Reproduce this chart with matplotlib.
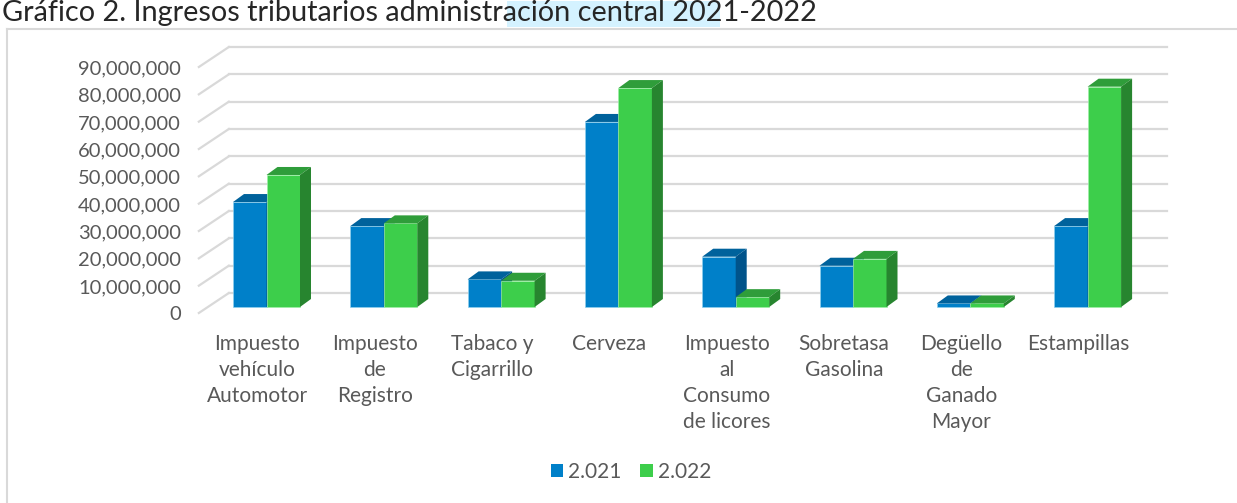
import matplotlib
matplotlib.use("Agg")
import matplotlib.pyplot as plt
import matplotlib.transforms as mtransforms
from matplotlib.patches import Polygon, Patch, Rectangle
import numpy as np

plt.rcParams['font.family'] = ['Lato', 'DejaVu Sans']

categories = ["Impuesto\nvehículo\nAutomotor", "Impuesto\nde\nRegistro", "Tabaco y\nCigarrillo",
              "Cerveza", "Impuesto\nal\nConsumo\nde licores", "Sobretasa\nGasolina",
              "Degüello\nde\nGanado\nMayor", "Estampillas"]
series_names = ["2.021", "2.022"]
values_2021 = [38.4e6, 29.6e6, 10.1e6, 67.7e6, 18.4e6, 15.1e6, 1.3e6, 29.6e6]
values_2022 = [48.3e6, 30.6e6, 9.6e6, 80.1e6, 3.6e6, 17.6e6, 1.3e6, 80.6e6]
yticks = list(range(0, 90_000_001, 10_000_000))
title = "Gráfico 2. Ingresos tributarios administración central 2021-2022"

front_colors = ["#0080C9", "#3DCE4B"]
top_colors = ["#00629C", "#2F9D3A"]
side_colors = ["#00538A", "#27852F"]
edge_colors = ["#8fd0ee", "#9ff0a8"]
grid_color = "#D9D9D9"
text_color = "#595959"

W, H, DPI = 1237, 503, 100
fig = plt.figure(figsize=(W / DPI, H / DPI), dpi=DPI)

# Axes = plane of the bars' front faces
x_left_px, x_right_px = 207.85, 1146.25
y0_px, ytop_px = 307, 61
ax = fig.add_axes([x_left_px / W, (H - y0_px) / H,
                   (x_right_px - x_left_px) / W, (y0_px - ytop_px) / H])
ax.set_xlim(-0.5, len(categories) - 0.5)
ax.set_ylim(0, 90e6)
ax.axis('off')


def shifted(base, dx_px, dy_px):
    return base + mtransforms.ScaledTranslation(dx_px / DPI, dy_px / DPI, fig.dpi_scale_trans)


front_tf = shifted(ax.transData, -9, -6)
back_tf = shifted(ax.transData, 21, 14)

xmin, xmax = ax.get_xlim()
# grid: back wall lines + side-wall diagonals + y tick labels on the front edge
for v in yticks:
    ax.plot([xmin, xmax], [v, v], color=grid_color, lw=1.6, transform=back_tf, clip_on=False, zorder=1)
    p_front = front_tf.transform((xmin, v))
    p_back = back_tf.transform((xmin, v))
    ax.plot([p_front[0], p_back[0]], [p_front[1], p_back[1]], color=grid_color, lw=1.6,
            transform=None, clip_on=False, zorder=1)
    ax.text(xmin, v, f"{v:,.0f}", transform=shifted(front_tf, -18, -2),
            ha='right', va='center', fontsize=14.5, color=text_color, clip_on=False)

# bars (front face, top face, side face)
xs = np.arange(len(categories))
bw = 33.5 / 117.3
depth_dx = 11 / 117.3
ypp = 10e6 / 27.333
depth_dy = 8 * ypp
for ci in range(len(categories)):
    for si, vals in enumerate([values_2021, values_2022]):
        v = vals[ci]
        x0 = xs[ci] + (si - 1) * bw
        x1 = x0 + bw
        ax.add_patch(Rectangle((x0, 0), bw, v, facecolor=front_colors[si], edgecolor=edge_colors[si],
                               lw=0.5, zorder=3, clip_on=False))
        ax.add_patch(Polygon([(x0, v), (x1, v), (x1 + depth_dx, v + depth_dy), (x0 + depth_dx, v + depth_dy)],
                             closed=True, facecolor=top_colors[si], edgecolor='none', zorder=3, clip_on=False))
        ax.add_patch(Polygon([(x1, 0), (x1 + depth_dx, depth_dy), (x1 + depth_dx, v + depth_dy), (x1, v)],
                             closed=True, facecolor=side_colors[si], edgecolor='none', zorder=3, clip_on=False))

# category labels in the front plane
for ci, lab in enumerate(categories):
    ax.text(xs[ci], 0, lab, transform=shifted(front_tf, 0, -21),
            ha='center', va='top', fontsize=15, color=text_color, linespacing=1.37, clip_on=False)

# legend
handles = [Patch(facecolor=front_colors[i], edgecolor='none', label=series_names[i]) for i in range(2)]
fig.legend(handles=handles, loc='center', bbox_to_anchor=(631 / W, (H - 472) / H), ncol=2, frameon=False,
           fontsize=15, labelcolor=text_color, handlelength=0.6, handleheight=0.6,
           handletextpad=0.25, columnspacing=0.9)

# chart border (left and top)
border_top = 29
fig.add_artist(plt.Line2D([7 / W, 7 / W], [0, (H - border_top) / H], color='#D9D9D9', lw=1.5))
fig.add_artist(plt.Line2D([7 / W, 1], [(H - border_top) / H, (H - border_top) / H], color='#D9D9D9', lw=1.5))

# title with light highlight behind part of it
fig.add_artist(Rectangle((507 / W, (H - 27) / H), (720 - 507) / W, 26 / H, facecolor='#D4F2FF',
                         edgecolor='none', transform=fig.transFigure, zorder=0))
fig.text(2 / W, (H - 21) / H, title, ha='left', va='baseline', fontsize=20.8, color='#262626')

fig.savefig("out.png", dpi=DPI)
